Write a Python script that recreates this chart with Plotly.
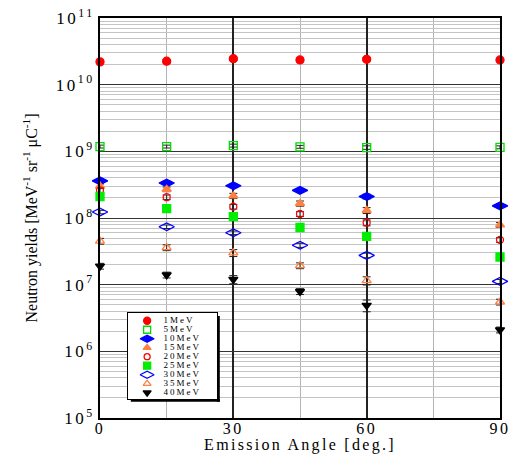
import plotly.graph_objects as go

# Emission angles (deg.)
angles = [0, 15, 30, 45, 60, 90]

# Neutron yields [MeV^-1 sr^-1 uC^-1] per neutron energy
y_1mev = [2.2e10, 2.25e10, 2.45e10, 2.35e10, 2.4e10, 2.35e10]
y_5mev = [1.18e9, 1.18e9, 1.22e9, 1.17e9, 1.14e9, 1.15e9]
y_10mev = [3.6e8, 3.35e8, 3.05e8, 2.6e8, 2.1e8, 1.52e8]
y_15mev = [3.0e8, 2.7e8, 2.15e8, 1.65e8, 1.3e8, 7.9e7]
y_20mev = [2.6e8, 2.05e8, 1.48e8, 1.15e8, 8.5e7, 4.7e7]
y_25mev = [2.1e8, 1.38e8, 1.05e8, 7.2e7, 5.3e7, 2.6e7]
y_30mev = [1.23e8, 7.4e7, 6.0e7, 3.9e7, 2.75e7, 1.12e7]
y_35mev = [4.5e7, 3.6e7, 3.0e7, 1.93e7, 1.15e7, 5.5e6]
y_40mev = [1.9e7, 1.4e7, 1.2e7, 7.9e6, 4.9e6, 2.1e6]

# relative uncertainties (%)
err_1mev = [6, 6, 6, 6, 6, 5]
err_5mev = [5, 5, 5, 5, 6, 5]
err_10mev = [6, 6, 6, 6, 8, 6]
err_15mev = [8, 8, 9, 9, 10, 8]
err_20mev = [8, 8, 8, 8, 10, 8]
err_25mev = [7, 7, 7, 7, 9, 7]
err_30mev = [6, 6, 6, 7, 8, 7]
err_35mev = [10, 10, 12, 10, 14, 10]
err_40mev = [10, 10, 14, 10, 20, 10]

names = ["1MeV", "5MeV", "10MeV", "15MeV", "20MeV", "25MeV", "30MeV", "35MeV", "40MeV"]
yields = [y_1mev, y_5mev, y_10mev, y_15mev, y_20mev, y_25mev, y_30mev, y_35mev, y_40mev]
errors = [err_1mev, err_5mev, err_10mev, err_15mev, err_20mev, err_25mev, err_30mev, err_35mev, err_40mev]

symbols = ["circle", "square-open", "diamond-wide", "triangle-up", "circle-open",
           "square", "diamond-wide-open", "triangle-up-open", "triangle-down"]
colors = ["#ff0000", "#00dd00", "#0000ff", "#ff8040", "#ff0000",
          "#00ee00", "#0000ff", "#ff8040", "#000000"]
sizes = [8, 8, 11, 8, 7, 8, 11, 8, 8]

decades = [1e5, 1e6, 1e7, 1e8, 1e9, 1e10, 1e11]
decade_labels = ["10<sup>%d</sup>" % e for e in range(5, 12)]
angle_ticks = [0, 30, 60, 90]

SERIF = "Liberation Serif"


def spaced(s, px):
    return '<span style="letter-spacing:%spx">%s</span>' % (px, s)


fig = go.Figure()

for name, ys, er, sym, col, sz in zip(names, yields, errors, symbols, colors, sizes):
    fig.add_trace(go.Scatter(
        x=angles, y=ys, mode="markers", name=name, showlegend=False,
        marker=dict(symbol=sym, color=col, size=sz,
                    line=dict(color=col, width=1.3)),
        error_y=dict(type="data", array=[v * p / 100 for v, p in zip(ys, er)],
                     visible=True, color="#222222", thickness=1, width=4),
        cliponaxis=False,
    ))

# Inset key with one row per energy
rows = list(range(len(names)))
for i, (name, sym, col, sz) in enumerate(zip(names, symbols, colors, sizes)):
    fig.add_trace(go.Scatter(
        x=[0.215], y=[i], mode="markers", xaxis="x2", yaxis="y2", showlegend=False,
        marker=dict(symbol=sym, color=col, size=sz - 1, line=dict(color=col, width=1.3)),
        hoverinfo="skip",
    ))
fig.add_trace(go.Scatter(
    x=[0.4] * len(names), y=rows, mode="text", xaxis="x2", yaxis="y2",
    text=[spaced(n, 2) for n in names], textposition="middle right",
    textfont=dict(family=SERIF, size=9, color="black"), showlegend=False,
    hoverinfo="skip",
))

fig.update_layout(
    width=509, height=454,
    margin=dict(l=100, r=9, t=18, b=36),
    paper_bgcolor="white", plot_bgcolor="white",
    font=dict(family=SERIF, color="black"),
    xaxis=dict(
        range=[0, 90], tickvals=angle_ticks,
        ticktext=[spaced(str(a), 2.5) for a in angle_ticks],
        tickfont=dict(family=SERIF, size=16), ticklabeloverflow="allow",
        ticklabelstandoff=-5,
        showgrid=True, gridcolor="#222222", gridwidth=1.5,
        minor=dict(dtick=15, showgrid=True, gridcolor="#b4b4b4", gridwidth=1, ticks=""),
        showline=True, mirror=True, linecolor="black", linewidth=2,
        ticks="", zeroline=False, automargin=False,
        title=dict(text=spaced("Emission Angle [deg.]", 2.3),
                   font=dict(family=SERIF, size=16), standoff=0),
    ),
    yaxis=dict(
        type="log", range=[5, 11], tickvals=decades,
        ticktext=[spaced(t, 2.5) for t in decade_labels],
        tickfont=dict(family=SERIF, size=17),
        showgrid=True, gridcolor="#333333", gridwidth=1.2,
        minor=dict(dtick="D1", showgrid=True, gridcolor="#c4c4c4", gridwidth=1, ticks=""),
        showline=True, mirror=True, linecolor="black", linewidth=2,
        ticks="", zeroline=False, automargin=False,
        title=dict(text="Neutron yields [MeV<sup>-1</sup> sr<sup>-1</sup> \u03bcC<sup>-1</sup>]",
                   font=dict(family=SERIF, size=16), standoff=14),
    ),
    xaxis2=dict(domain=[0.07, 0.2925], range=[0, 1], anchor="y2",
                showgrid=False, zeroline=False, showticklabels=False, ticks="",
                showline=True, mirror=True, linecolor="black", linewidth=1,
                automargin=False),
    yaxis2=dict(domain=[0.0475, 0.2625], range=[8.7, -0.86], anchor="x2",
                showgrid=False, zeroline=False, showticklabels=False, ticks="",
                showline=True, mirror=True, linecolor="black", linewidth=1,
                automargin=False),
    shapes=[
        # drop shadow of the key box
        dict(type="rect", xref="paper", yref="paper", x0=0.2925, x1=0.2995,
             y0=0.0405, y1=0.255, fillcolor="black", line=dict(width=0), layer="above"),
        dict(type="rect", xref="paper", yref="paper", x0=0.077, x1=0.2995,
             y0=0.0405, y1=0.0475, fillcolor="black", line=dict(width=0), layer="above"),
    ],
)

fig.write_html("out.html")
